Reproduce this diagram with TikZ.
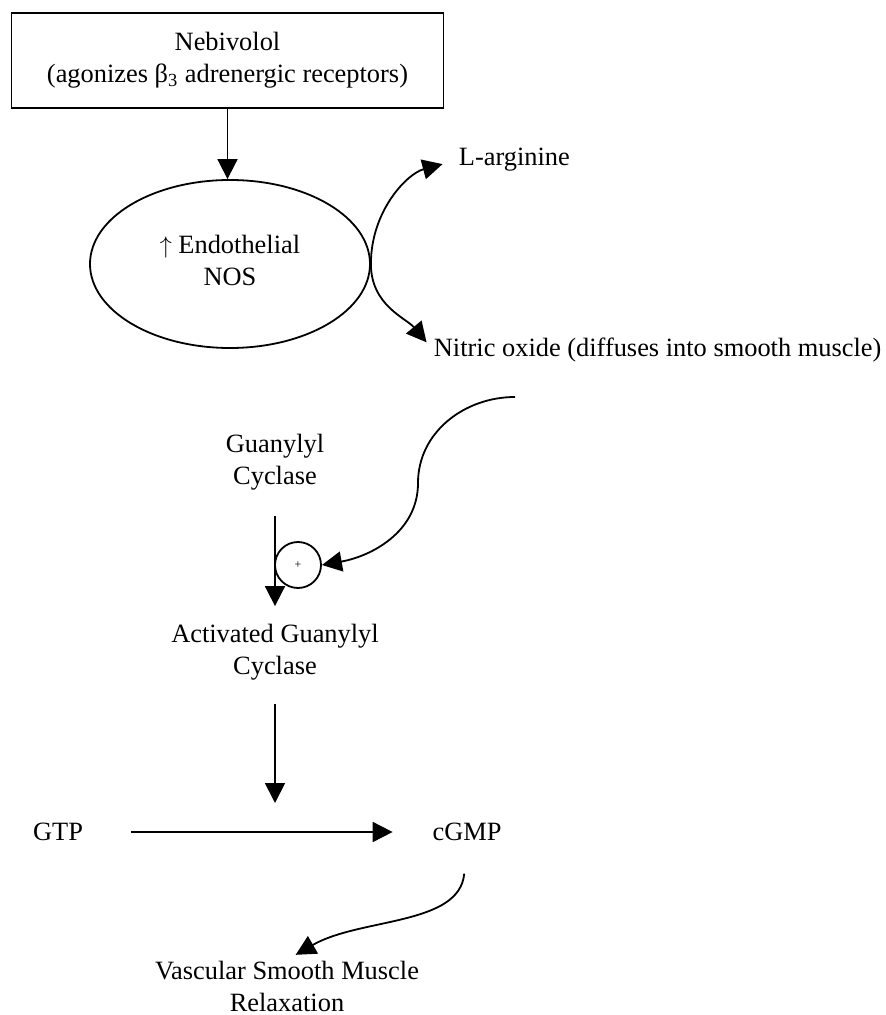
\documentclass[tikz,border=0pt]{standalone}
\usepackage{fontspec}
\setmainfont{Liberation Serif}
\usetikzlibrary{arrows.meta,shapes.geometric}
\tikzset{
  flow/.style={-{Triangle[length=10pt,width=10pt]}},
  label text/.style={font=\fontsize{13.2}{16}\selectfont, align=center, inner sep=0pt},
}

\begin{document}
\begin{tikzpicture}[x=0.5pt,y=-0.5pt,line width=0.9pt]
      \useasboundingbox (0,0) rectangle (886,1015);

      % drug and enzyme
      \node[label text, draw, minimum width=216pt, minimum height=47.5pt] (nebi) at (227.5,60.5) {Nebivolol\\(agonizes β\textsubscript{3} adrenergic receptors)};
      \node[label text, draw, ellipse, minimum width=140pt, minimum height=84pt, text height=22pt] (enos) at (230,264) {$\uparrow$ Endothelial\\NOS};
      \draw[flow] (nebi) -- (nebi |- enos.north);

      % products of eNOS
      \node[label text, anchor=west] (larg) at (458,160) {L-arginine};
      \node[label text, anchor=west] (nitric) at (433,350) {Nitric oxide (diffuses into smooth muscle)};
      \draw[flow, shorten >=8pt] (enos.east) to[out=90,in=195] (larg.west);
      \draw[flow, shorten >=5pt] (enos.east) to[out=-90,in=130] (nitric.west);

      % guanylyl cyclase activation
      \node[label text] (gc) at (275,462) {Guanylyl\\Cyclase};
      \node[label text] (agc) at (275,652) {Activated Guanylyl\\Cyclase};
      \node[draw, circle, inner sep=0pt, minimum size=23pt] (plus) at (298,565) {\fontsize{6}{6}\selectfont +};
      \draw[flow, shorten <=12.5pt, shorten >=8.5pt] (gc) -- (agc);
      \coordinate (nostart) at (515,397);
      \coordinate (nobend) at (418,483);
      \draw[flow] (nostart) to[out=180,in=90] (nobend) to[out=-90,in=10] (plus.east);

      % cGMP formation
      \node[label text] (gtp) at (58,832) {GTP};
      \node[label text] (cgmp) at (467,832) {cGMP};
      \coordinate (join) at (275,803);
      \draw[flow, shorten <=11.5pt] (agc) -- (join);
      \draw[flow, shorten <=23.5pt, shorten >=19.5pt] (gtp.east) -- (gtp.east -| cgmp.west);

      % relaxation
      \node[label text] (vsm) at (287,986) {Vascular Smooth Muscle\\Relaxation};
      \draw[flow, shorten <=16pt, shorten >=5pt] (cgmp.south) to[out=-95,in=30] (vsm.north);
    \end{tikzpicture}
\end{document}
